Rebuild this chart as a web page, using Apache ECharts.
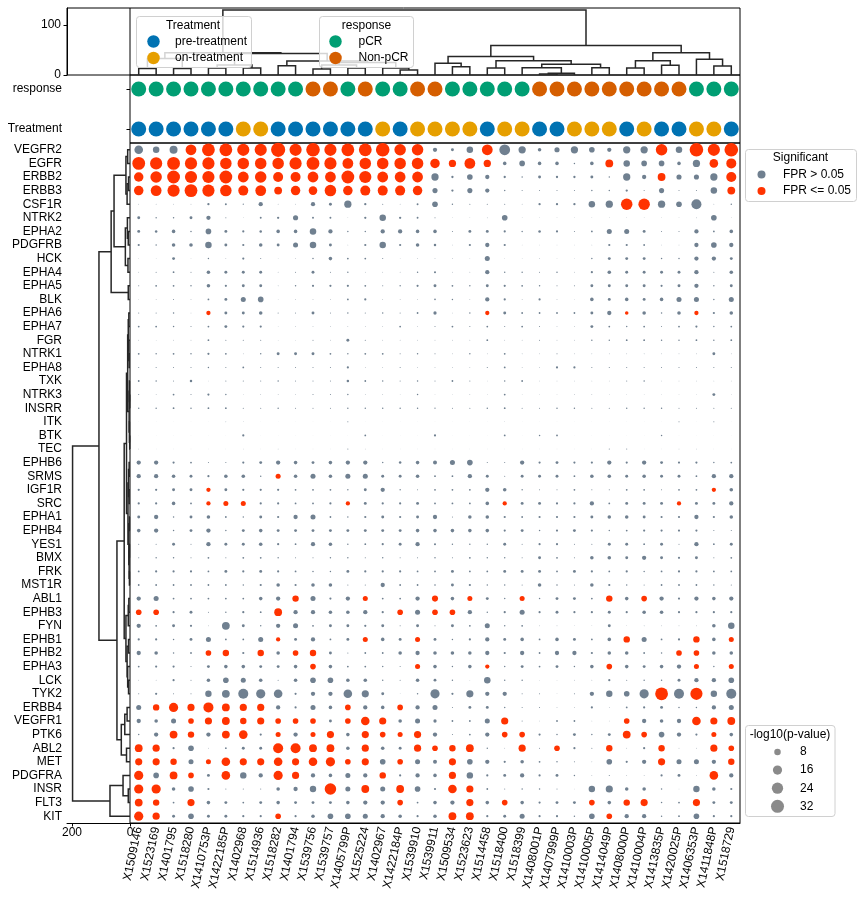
<!DOCTYPE html>
<html><head><meta charset="utf-8">
<script src="https://cdn.jsdelivr.net/npm/echarts@6/dist/echarts.min.js"></script>
<style>html,body{margin:0;padding:0;background:#fff}#c{width:862px;height:900px}</style>
</head><body><div id="c"></div>
<script>
const colLabels = ["X1509146","X1523169","X1401795","X1518280","X1410753P","X1422185P","X1402968","X1514936","X1518282","X1401794","X1539756","X1539757","X1405799P","X1525224","X1402967","X1422184P","X1539910","X1539911","X1509534","X1523623","X1514458","X1518400","X1518399","X1408001P","X1407999P","X1410003P","X1410005P","X1414049P","X1408000P","X1410004P","X1413835P","X1420025P","X1406353P","X1411848P","X1518729"];
const rowLabels = ["VEGFR2","EGFR","ERBB2","ERBB3","CSF1R","NTRK2","EPHA2","PDGFRB","HCK","EPHA4","EPHA5","BLK","EPHA6","EPHA7","FGR","NTRK1","EPHA8","TXK","NTRK3","INSRR","ITK","BTK","TEC","EPHB6","SRMS","IGF1R","SRC","EPHA1","EPHB4","YES1","BMX","FRK","MST1R","ABL1","EPHB3","FYN","EPHB1","EPHB2","EPHA3","LCK","TYK2","ERBB4","VEGFR1","PTK6","ABL2","MET","PDGFRA","INSR","FLT3","KIT"];
const responseVals = ["pCR","pCR","pCR","pCR","pCR","pCR","pCR","pCR","pCR","pCR","Non-pCR","Non-pCR","pCR","Non-pCR","pCR","pCR","Non-pCR","Non-pCR","pCR","pCR","pCR","pCR","pCR","Non-pCR","Non-pCR","Non-pCR","Non-pCR","Non-pCR","Non-pCR","Non-pCR","Non-pCR","Non-pCR","pCR","pCR","pCR"];
const treatmentVals = ["pre","pre","pre","pre","pre","pre","on","on","pre","pre","pre","pre","pre","pre","on","pre","on","on","on","on","pre","on","on","pre","pre","on","on","on","pre","on","pre","pre","on","on","pre"];
const annotRows = ["response","Treatment"];
const dendroTopTicks = [0, 100];
const dendroLeftTicks = [200, 0];
const sizeLegendVals = [8, 16, 24, 32];

// -log10(p-value) per gene row, one value per sample column
const logP = [
[14,8,12,22,31,31,28,28,38,28,35,28,31,31,35,25,25,3.5,1.6,8,22,22,10,2.4,5,10,6,3.5,10,10,25,8,35,28,35],
[31,28,31,28,28,25,25,25,25,28,31,28,22,25,25,25,25,17,10,22,10,2.4,6,2.4,2.4,0.4,2.4,11.5,8,6,6,2.4,10,14,19],
[17,25,31,28,28,31,22,25,19,19,22,22,31,28,22,22,22,10,1,6,3.5,1,0.4,1.6,1,1,1.6,0.4,10,3.5,11.5,5,5,10,19],
[17,22,28,31,28,25,19,22,11.5,17,14,25,17,19,19,19,17,5,1,5,3.5,0.4,0.2,0.2,0.2,0.2,0.4,0.4,1,0.2,5,0.2,0.2,8,11.5],
[0.1,0.1,0.1,0.1,1,0.7,0.3,3.5,0.1,0.1,3.5,1.6,10,1,0.2,0.1,0.7,6,0.4,0.2,0.2,0.2,0.1,1,1,1,8,10,25,25,10,6,19,0.1,0.4],
[1.6,0.4,0.4,1.6,3.5,0.2,0.05,0.7,1,5,0.7,0.7,0.05,1,8,1,0.7,0.2,0.05,0.05,0.1,6,0.05,0.05,0.05,0.05,0.05,0.05,0.05,0.05,0.05,0.05,0.1,6,0.05],
[1.6,1.2,2.4,0.4,6,1.6,0.9,1.2,2.4,2.4,8,3.5,0.4,0.4,3.5,3.5,2.4,2.4,0.2,1.6,1.6,0.9,0.4,1.2,0.9,0.2,0.6,4.8,4.8,1.6,0.2,0.2,3.5,0.6,2.4],
[0.9,0.4,2.4,2.4,8,1.6,0.9,2.4,1.6,4.8,8,1.6,0.1,0.9,8,0.9,2.4,1.2,0.1,0.9,3.5,0.9,0.05,0.05,0.05,0.05,0.1,0.9,0.9,0.6,0.1,0.1,3.5,6,3.5],
[0.05,0.05,1.6,0.05,0.4,0.1,0.9,0.2,0.05,0.1,0.4,2.4,0.6,0.6,0.2,0.05,0.1,0.1,0.1,0.05,4.8,0.05,0.05,0.1,0.05,0.05,0.4,1.6,1.6,1.6,0.4,0.4,3.5,3.5,1.6],
[0.1,0.2,0.6,0.2,2.4,1.6,1.6,1.6,0.1,0.2,1.6,0.2,0.4,0.1,0.1,0.1,0.4,0.8,0.1,0.1,3.5,0.4,0.4,0.2,0.4,0.1,0.9,2.4,1.6,1.6,1.6,1.6,3.5,0.2,2.4],
[0.2,0.6,0.6,0.4,2.4,0.9,1.6,1.6,0.1,0.4,0.9,0.9,0.9,0.6,0.2,0.4,0.9,1.6,0.6,0.4,1.6,0.9,0.6,0.4,0.2,0.2,1.6,1.6,1.6,1.6,0.9,1.6,3.5,0.4,1.6],
[0.05,0.1,0.2,0.1,0.6,1.6,4.8,6,0.05,0.1,0.1,0.1,0.6,0.9,0.1,0.1,0.1,0.5,0.4,0.1,3.5,0.9,0.1,0.9,0.1,0.05,2.4,1.6,2.4,1.6,2.4,4.8,4.8,0.4,4.8],
[0.2,0.2,0.4,0.1,3.5,1.6,1.6,2.4,0.2,0.2,1.6,0.2,0.4,0.2,0.4,0.2,0.6,2,0.1,0.4,3.5,1.6,0.6,0.6,0.6,0.6,1.6,3.5,2.4,2.4,0.4,2.4,3.5,0.9,2.4],
[0.6,0.6,0.4,0.2,0.6,1.6,0.9,0.9,0.05,0.1,0.1,0.1,0.1,0.1,0.1,0.6,0.1,0.2,0.6,0.2,0.6,0.2,0.6,0.2,0.1,0.1,1.6,0.6,0.4,0.6,0.2,0.6,0.9,0.4,0.6],
[0.1,0.05,0.1,0.1,0.6,0.2,0.2,0.2,0.05,0.05,0.2,0.1,1.6,0.2,0.1,0.1,0.1,0.1,0.1,0.1,0.6,0.1,0.1,0.2,0.1,0.1,0.4,0.4,0.6,0.6,0.4,0.4,0.6,0.4,0.6],
[0.6,0.4,0.6,0.4,0.9,0.6,0.1,0.4,1.6,1.6,1.6,0.6,0.4,0.6,0.6,0.2,0.4,0.2,0.1,0.4,0.1,0.6,0.1,0.1,0.2,0.1,0.1,0.1,0.1,0.1,0.1,0.1,0.1,1.6,0.1],
[0.2,0.2,0.2,0.2,0.4,0.2,0.6,0.2,0.2,0.2,0.2,0.2,0.9,0.1,0.1,0.2,0.1,0.1,0.1,0.1,0.2,0.6,0.1,0.1,0.9,0.9,0.2,0.2,0.2,0.2,0.2,0.2,0.2,0.2,0.2],
[0.6,0.4,0.2,1.2,0.05,0.2,0.2,0.2,0.4,0.2,0.2,0.2,1.2,0.6,0.4,0.2,0.4,0.2,0.6,0.2,0.05,0.4,0.6,0.1,0.1,0.1,0.1,0.1,0.2,0.4,0.1,0.1,0.1,0.1,0.1],
[0.2,0.1,0.6,0.2,0.9,0.4,0.05,0.1,0.1,0.1,0.2,0.2,0.4,0.1,0.1,0.05,0.4,0.05,0.05,0.1,0.05,0.6,0.05,0.05,0.05,0.1,0.1,0.05,0.05,0.05,0.05,0.05,0.05,1.6,0.05],
[0.4,0.4,0.6,0.4,0.6,0.6,0.2,0.2,0.4,0.2,0.2,0.2,0.4,0.4,0.4,0.4,0.4,0.3,0.2,0.2,0.4,0.6,0.2,0.2,0.4,0.4,0.2,0.2,0.4,0.4,0.4,0.2,0.2,0.2,0.2],
[0.02,0.02,0.02,0.02,0.02,0.1,0.05,0.02,0.02,0.02,0.02,0.02,0.2,0.02,0.02,0.02,0.02,0.02,0.02,0.02,0.02,0.05,0.02,0.02,0.02,0.02,0.02,0.02,0.02,0.02,0.02,0.2,0.02,0.2,0.02],
[0.02,0.02,0.02,0.02,0.02,0.02,0.9,0.02,0.02,0.02,0.02,0.02,0.02,0.6,0.02,0.02,0.02,0.9,0.02,0.02,0.02,0.6,0.02,0.4,0.6,0.02,0.02,0.02,0.02,0.02,0.4,0.02,0.02,0.02,0.02],
[0.1,0.02,0.02,0.02,0.02,0.02,0.05,0.02,0.1,0.02,0.02,0.02,0.2,0.1,0.02,0.02,0.02,0.02,0.02,0.02,0.02,0.02,0.02,0.02,0.02,0.02,0.02,0.2,0.2,0.02,0.02,0.1,0.1,0.02,0.02],
[3.5,3.5,0.9,0.6,0.2,0.2,0.9,1.6,3.5,2.4,1.6,2.4,3.5,3.5,0.4,1.2,2.4,3,4.8,6,0.2,0.2,3.5,0.9,1.6,0.9,0.9,3.5,0.9,3.5,1.6,0.9,0.9,0.4,0.6],
[3.5,3.5,2.4,1.6,0.9,2.4,2.4,0.4,4.8,2.4,4.8,2.4,4.8,4.8,1.6,1.6,2.4,0.6,0.6,3.5,1.6,0.2,1.6,1.6,1.6,0.6,2.4,2.4,1.6,2.4,1.6,1.6,0.6,3.5,3.5],
[0.9,0.9,1.6,1.6,3.5,1.6,0.9,0.9,0.9,0.6,0.6,0.6,0.4,1.6,3.5,0.4,0.2,0.6,0.6,0.6,3.5,2.4,0.4,0.2,0.2,0.6,0.2,0.2,0.6,0.6,0.2,0.6,0.6,3.5,2.4],
[0.9,0.9,2.4,0.6,3.5,4.8,4.8,0.9,0.9,0.6,0.6,0.9,3.5,1.6,0.9,0.9,1.6,0.6,0.6,0.6,2.4,3.5,1.6,1.6,0.9,0.9,3.5,0.6,1.6,1.6,1.6,3.5,1.6,1.6,3.5],
[1.6,3.5,0.4,1.6,2.4,0.6,0.4,1.6,0.9,3.5,4.8,0.6,0.4,0.9,1.6,0.9,1.6,3.5,0.2,2.4,2.4,0.9,0.6,0.9,0.9,0.9,1.6,2.4,2.4,1.6,0.9,0.9,3.5,0.9,2.4],
[2.4,3.5,0.4,1.6,3.5,0.4,1.6,2.4,1.6,1.6,1.6,1.6,1.6,1.6,1.6,1.6,2.4,2.4,2.4,2.4,2.4,0.9,1.6,0.4,0.9,1.6,0.9,0.4,0.6,0.9,0.9,0.9,0.9,0.2,0.2],
[0.2,0.2,1.6,0.2,3.5,1.6,1.6,2.4,0.9,0.6,3.5,2.4,0.4,0.6,0.9,1.6,3.5,0.8,0.4,0.4,0.4,1.6,0.2,0.9,0.9,0.2,0.2,1.6,1.6,0.6,1.6,0.2,3.5,0.6,1.6],
[0.2,0.4,0.4,0.2,0.6,0.2,0.6,0.6,0.4,0.2,0.2,0.4,0.4,0.2,0.4,0.2,0.2,0.4,0.2,0.6,0.4,0.4,0.2,1.6,0.6,0.2,2.4,2.4,1.6,3.5,1.6,0.9,1.6,0.2,0.6],
[0.6,0.9,0.9,0.9,0.6,1.6,0.9,1.6,0.9,0.6,0.4,0.4,1.6,0.9,0.9,0.9,0.6,0.6,1.6,0.6,0.6,1.6,1.6,1.6,0.6,1.6,0.9,0.6,0.9,0.4,0.6,0.9,0.9,0.6,0.6],
[0.6,0.6,0.6,0.6,0.6,0.6,0.4,0.9,2.4,0.9,2.4,2.4,0.2,0.2,3.5,0.6,0.6,0.5,1.6,0.9,0.4,0.4,0.2,2.4,0.4,0.2,2.4,0.9,0.4,0.2,0.6,0.6,0.6,0.4,0.2],
[3.5,4.8,0.6,0.6,0.6,0.6,0.6,2.4,3.5,7.8,4.8,0.9,3.5,4.8,0.6,0.6,3.5,7,2.4,4.8,1.6,0.4,4.8,0.4,1.6,1.6,0.6,7.8,2.4,6,3.5,0.9,3.5,2.4,3.5],
[6,6,0.9,1.6,0.2,0.4,0.9,0.6,11.5,3.5,3.5,2.4,2.4,3.5,0.9,6,4.8,6,6,3.5,0.4,0.9,4.8,0.9,1.6,0.9,0.9,1.6,0.9,2.4,2.4,0.9,0.9,0.9,0.9],
[3.5,0.6,1.6,0.9,0.1,11.5,1.6,0.4,3.5,4.8,0.6,1.6,1.6,0.9,1.6,0.2,1.6,0.2,1.6,0.6,4.8,0.4,0.6,0.1,0.1,0.05,0.05,1.6,0.05,0.1,0.1,0.1,0.1,2.4,8],
[0.9,0.9,0.4,1.6,4.8,0.6,0.6,4.8,3.5,1.6,3.5,0.6,1.6,4.8,2.4,1.6,4.8,1.6,0.4,0.9,3.5,1.6,2.4,0.6,2.4,1.6,0.6,2.4,7.8,4.8,0.6,0.9,7.8,2.4,4.8],
[3.5,2.4,0.4,0.6,6,7.8,0.9,7.8,2.4,6,7.8,1.6,0.2,0.6,0.6,2.4,3.5,2.4,2.4,2.4,3.5,0.9,3.5,0.6,3.5,3.5,0.9,2.4,2.4,0.6,0.4,6,6,2.4,2.4],
[0.6,0.9,0.9,0.2,1.6,2.4,2.4,1.6,1.6,2.4,6,2.4,0.6,0.6,0.4,0.2,4.8,2.4,0.4,2.4,3.5,0.4,1.6,0.6,1.6,0.4,2.4,6,2.4,1.6,2.4,3.5,4.8,0.4,4.8],
[0.1,0.1,0.9,0.2,2.4,6,4.8,2.4,0.2,2.4,6,6,2.4,2.4,0.4,0.2,2.4,1.5,0.4,0.05,8,0.4,0.4,0.05,0.05,0.1,0.1,0.9,0.2,0.4,0.4,1.6,3.5,3.5,6],
[0.2,0.9,0.2,0.2,7.8,11.5,19,16,14,0.9,3.5,3.5,14,9.7,1.6,0.05,0.4,16,0.9,9.7,3.5,3.5,0.2,0.2,0.05,0.2,3.5,7.8,6,16,31,19,28,7.8,19],
[4.8,7.8,16,9.7,19,11.5,9.7,9.7,3.5,0.9,4.8,2.4,6,3.5,2.4,6,3.5,4.8,0.2,1.6,1.6,0.4,0.2,0.2,0.1,0.1,0.9,0.1,0.6,0.9,1.6,0.4,0.4,3.5,4.8],
[3.5,2.4,4.8,6,9.7,11.5,7.8,9.7,6,6,6,1.6,6,14,9.7,2.4,4.8,2,0.6,0.6,4.8,9.7,0.2,0.1,0.6,0.6,0.1,0.1,6,3.5,2.4,3.5,14,9.7,11.5],
[0.4,3.5,11.5,7.8,3.5,11.5,14,0.9,4.8,3.5,4.8,9.7,2.4,9.7,6,4.8,9.7,3.5,0.2,0.6,3.5,6,6,0.9,0.4,1.6,0.4,1.6,11.5,6,6,3.5,0.9,4.8,2.4],
[11.5,9.7,0.9,6,0.1,0.6,1.6,1.6,19,19,11.5,11.5,2.4,9.7,2.4,1.6,9.7,6,7.8,11.5,0.4,0.1,9.7,0.2,6,0.9,0.2,7.8,0.1,0.9,7.8,0.1,0.1,9.7,6],
[9.7,9.7,7.8,4.8,4.8,14,9.7,9.7,14,9.7,14,16,6,9.7,6,6,4.8,3,9.7,6,3.5,0.9,2.4,0.6,0.4,0.2,0.1,6,0.9,3.5,9.7,4.8,4.8,3.5,7.8],
[16,6,11.5,6,1.6,14,7.8,3.5,16,9.7,3.5,2.4,4.8,3.5,7.8,0.9,3.5,2.4,9.7,7.8,0.9,1.6,3.5,0.9,1.6,0.4,0.1,0.2,0.1,0.1,0.9,1.6,0.1,14,3.5],
[16,16,2.4,6,0.9,0.2,0.2,0.2,2.4,3.5,7.8,25,4.8,11.5,4.8,11.5,6,0.9,14,9.7,0.6,0.2,0.4,0.4,0.2,0.05,7.8,9.7,2.4,2.4,0.4,0.05,7.8,2.4,0.9],
[11.5,7.8,0.6,9.7,2.4,1.6,0.6,1.6,2.4,1.6,1.6,1.6,2.4,3.5,3.5,6,0.6,2.4,3.5,9.7,2.4,6,2.4,0.9,1.6,1.6,6,2.4,7.8,9.7,0.4,0.6,9.7,1.6,1.6],
[16,9.7,1.6,6,1.6,1.6,0.9,0.9,6,0.9,2.4,6,6,4.8,3.5,2.4,0.9,2.4,11.5,11.5,0.9,1.6,4.8,0.9,0.9,0.4,6,6,3.5,3.5,0.4,0.6,6,0.9,0.9]
];

// columns where FPR <= 0.05, per gene row
const sigCols = [
[3,4,5,6,7,8,9,10,11,12,13,14,15,16,20,30,32,33,34],
[0,1,2,3,4,5,6,7,8,9,10,11,12,13,14,15,16,17,18,19,20,27,33,34],
[0,1,2,3,4,5,6,7,8,9,10,11,12,13,14,15,16,30,34],
[0,1,2,3,4,5,6,7,8,9,10,11,12,13,14,15,16,34],
[28,29],[],[],[],[],[],[],[],
[4,20,28,32],
[],[],[],[],[],[],[],[],[],[],[],
[8],[4,33],[4,5,6,12,21,31],
[],[],[],[],[],[],
[9,13,17,19,22,27,29],
[0,1,8,15,17,18],
[],
[8,13,16,28,32,34],
[4,5,7,9,10,31,32],
[10,16,20,27,32,34],
[],
[30,32],
[1,2,3,4,5,6,7,12,15],
[3,4,5,6,7,8,9,10,12,13,14,21,28,32,33,34],
[2,3,5,6,8,10,11,13,14,15,16,21,22,28,29,33],
[0,1,8,9,10,11,13,16,17,18,19,22,24,27,30,33,34],
[0,1,2,4,5,6,7,8,9,10,11,12,13,15,18,30,34],
[0,2,3,5,8,9,14,18,33],
[0,1,11,13,15,18,19],
[0,1,3,15,19,21,26,28,29,32],
[0,1,8,18,19,27]
];

// dendrograms: [left, right, height]; leaves are row/column indices
const colTree = [
  [ [[0,1,13],[2,3,13],33],
    [ [[4,5,14],[6,7,14],20],
      [ [8,9,18.7], [[[10,11,12],[12,13,14],20],[14,[15,16,10],14],25], 28 ], 43 ], 44.5 ],
  [ [ [17,[18,19,16.7],23.3],
      [ [20,21,14], [ [22,[[23,24,2],25,3.5],14.7], [26,27,14.7], 21.3 ], 28.7 ], 37 ],
    [ [[28,29,14],[30,31,19.3],28.6], [32,[33,34,18],31.3], 44.6 ], 59 ], 130 ];
const rowTree = [
  [ [ [ [[0,1,8],[[2,3,5],4,10],14], [[5,[6,7,6],9],[8,9,7],16], 55 ],
      [10,11,6], 65 ],
    [ [ [ [ [[12,13,4],[14,[15,16,3],4],6], [[17,[18,19,1],2],[20,[21,22,1],2],3], 8 ],
          [[[23,24,3],[25,26,3],5],[[27,28,2],[[29,30,2],[31,32,2],3],4],7], 12 ],
        [[[33,34,4],35,6],[[36,37,5],[38,[39,40,5],8],10],14], 20 ],
      [ [[41,42,10],43,18], [44,45,12], 30 ], 45 ], 107 ],
  [ [46,[47,48,6],24], 49, 69 ], 198 ];

const COL = {grey:'#708090', red:'#FF3300', pCR:'#009E73', nonpCR:'#D55E00', pre:'#0072B2', on:'#E69F00', leg:'#8a8a8a', dendro:'#262626'};
const FONT = '"Liberation Sans", Arial, sans-serif';
function dotSize(v){ return 2.3 * Math.sqrt(Math.max(v, 0)); }

function buildLinks(tree, out){
  if (typeof tree === 'number') return [tree, 0];
  const a = buildLinks(tree[0], out), b = buildLinks(tree[1], out);
  out.push([a[0], a[1], b[0], b[1], tree[2]]);
  return [(a[0] + b[0]) / 2, tree[2]];
}
const colLinks = []; buildLinks(colTree, colLinks);
const rowLinks = []; buildLinks(rowTree, rowLinks);

const greyData = [], redData = [];
logP.forEach((row, j) => {
  const s = new Set(sigCols[j]);
  row.forEach((v, i) => { (s.has(i) ? redData : greyData).push([i, j, v]); });
});
const annotData = [];
colLabels.forEach((c, i) => {
  annotData.push({value:[i, 0], itemStyle:{color: responseVals[i] === 'pCR' ? COL.pCR : COL.nonpCR, opacity:1}});
  annotData.push({value:[i, 1], itemStyle:{color: treatmentVals[i] === 'pre' ? COL.pre : COL.on, opacity:1}});
});

const lineStyle = {stroke: COL.dendro, lineWidth: 1.5, fill: 'none'};
function renderTop(params, api){
  const pts = [api.coord([api.value(0), api.value(1)]), api.coord([api.value(0), api.value(4)]),
               api.coord([api.value(2), api.value(4)]), api.coord([api.value(2), api.value(3)])];
  return {type:'polyline', shape:{points:pts}, style:lineStyle};
}
function renderLeft(params, api){
  const pts = [api.coord([api.value(1), api.value(0)]), api.coord([api.value(4), api.value(0)]),
               api.coord([api.value(4), api.value(2)]), api.coord([api.value(3), api.value(2)])];
  return {type:'polyline', shape:{points:pts}, style:lineStyle};
}

const txt = {fontFamily: FONT, fontSize: 12, color: '#000'};
const L = {left:130, right:740, top:143, bottom:823, dl:67, dtop:8, atop:75};
const nC = colLabels.length, nR = rowLabels.length;
const band = (L.right - L.left) / nC;

// legends
const g = [];
function legendBox(x, y, w, h){ g.push({type:'rect', shape:{x:x, y:y, width:w, height:h, r:3}, style:{fill:'rgba(255,255,255,0.8)', stroke:'#d0d0d0', lineWidth:1}, z:100}); }
function legendText(x, y, s, align){ g.push({type:'text', x:x, y:y, style:{text:s, font:'12px ' + FONT, fill:'#000', align: align || 'left', verticalAlign:'middle'}, z:101}); }
function legendDot(x, y, d, c){ g.push({type:'circle', shape:{cx:x, cy:y, r:d/2}, style:{fill:c}, z:101}); }
legendBox(136.5, 16.5, 115, 51);
legendText(193, 26, 'Treatment', 'center');
legendDot(153.5, 41.5, 12.5, COL.pre); legendText(175, 41.5, 'pre-treatment');
legendDot(153.5, 58, 12.5, COL.on); legendText(175, 58, 'on-treatment');
legendBox(319.5, 16.5, 94, 51);
legendText(366.5, 26, 'response', 'center');
legendDot(335.5, 41.5, 12.5, COL.pCR); legendText(358.5, 41.5, 'pCR');
legendDot(335.5, 58, 12.5, COL.nonpCR); legendText(358.5, 58, 'Non-pCR');
legendBox(745.5, 149.5, 111, 52);
legendText(800.5, 158, 'Significant', 'center');
legendDot(761.5, 174.5, 8, COL.grey); legendText(783, 174.5, 'FPR > 0.05');
legendDot(761.5, 191, 8, COL.red); legendText(783, 191, 'FPR <= 0.05');
legendBox(745.5, 725.5, 89.5, 91);
legendText(790, 735, '-log10(p-value)', 'center');
sizeLegendVals.forEach((v, k) => { const y = 752 + k * 18.1; legendDot(777.5, y, dotSize(v), COL.leg); legendText(800, y, String(v)); });
g.push({type:'line', shape:{x1:L.left, y1:L.dtop, x2:L.left, y2:L.atop}, style:{stroke:'#000', lineWidth:1}, z:50});

const option = {
  animation: false,
  backgroundColor: '#fff',
  textStyle: {fontFamily: FONT},
  grid: [
    {left:L.dl, top:L.dtop, width:L.right - L.dl, height:L.atop - L.dtop, show:true, borderColor:'#000', borderWidth:1},
    {left:L.left, top:L.atop, width:L.right - L.left, height:L.top - L.atop, show:true, borderColor:'#000', borderWidth:1},
    {left:L.left, top:L.top, width:L.right - L.left, height:L.bottom - L.top, show:true, borderColor:'#000', borderWidth:1},
    {left:L.dl, top:L.top, width:L.left - L.dl, height:L.bottom - L.top}
  ],
  xAxis: [
    {gridIndex:0, type:'value', min: -0.5 - (L.left - L.dl) / band, max: nC - 0.5, show:false},
    {gridIndex:1, type:'category', data: colLabels, show:false},
    {gridIndex:2, type:'category', data: colLabels, position:'bottom',
      axisLine:{onZero:false, lineStyle:{color:'#000'}}, axisTick:{alignWithLabel:true, length:3.5, lineStyle:{color:'#000'}},
      axisLabel:Object.assign({rotate:78, margin:4, interval:0}, txt), splitLine:{show:false}},
    {gridIndex:3, type:'value', min:0, max:217.2, inverse:true, position:'bottom',
      axisLine:{show:true, onZero:false, lineStyle:{color:'#000'}}, axisTick:{show:true, length:3.5, customValues:dendroLeftTicks, lineStyle:{color:'#000'}},
      axisLabel:Object.assign({margin:4, customValues:dendroLeftTicks}, txt), splitLine:{show:false}}
  ],
  yAxis: [
    {gridIndex:0, type:'value', min:0, max:134, position:'left',
      axisLine:{show:true, onZero:false, lineStyle:{color:'#000'}}, axisTick:{show:true, length:3.5, customValues:dendroTopTicks, lineStyle:{color:'#000'}},
      axisLabel:Object.assign({margin:6, customValues:dendroTopTicks}, txt), splitLine:{show:false}},
    {gridIndex:1, type:'value', min:-0.35, max:1.35, inverse:true, position:'left',
      axisLine:{show:false, onZero:false}, axisTick:{show:true, length:3.5, customValues:[0,1], lineStyle:{color:'#000'}},
      axisLabel:Object.assign({margin:68, customValues:[0,1], formatter: v => annotRows[Math.round(v)]}, txt), splitLine:{show:false}},
    {gridIndex:2, type:'category', data: rowLabels, inverse:true, position:'left',
      axisLine:{show:false, onZero:false}, axisTick:{alignWithLabel:true, length:3.5, lineStyle:{color:'#000'}},
      axisLabel:Object.assign({margin:68, interval:0}, txt), splitLine:{show:false}},
    {gridIndex:3, type:'value', min:-0.5, max:nR - 0.5, inverse:true, show:false, axisLine:{onZero:false}}
  ],
  series: [
    {type:'custom', xAxisIndex:0, yAxisIndex:0, data: colLinks, renderItem: renderTop, silent:true},
    {type:'custom', xAxisIndex:3, yAxisIndex:3, data: rowLinks, renderItem: renderLeft, silent:true},
    {type:'scatter', xAxisIndex:1, yAxisIndex:1, data: annotData, symbolSize: 15, itemStyle:{opacity:1}, silent:true},
    {type:'scatter', xAxisIndex:2, yAxisIndex:2, data: greyData, symbolSize: v => dotSize(v[2]), itemStyle:{color:COL.grey, opacity:1}, silent:true},
    {type:'scatter', xAxisIndex:2, yAxisIndex:2, data: redData, symbolSize: v => dotSize(v[2]), itemStyle:{color:COL.red, opacity:1}, silent:true}
  ],
  graphic: g
};
const chart = echarts.init(document.getElementById('c'));
chart.setOption(option);
</script>
</body></html>
